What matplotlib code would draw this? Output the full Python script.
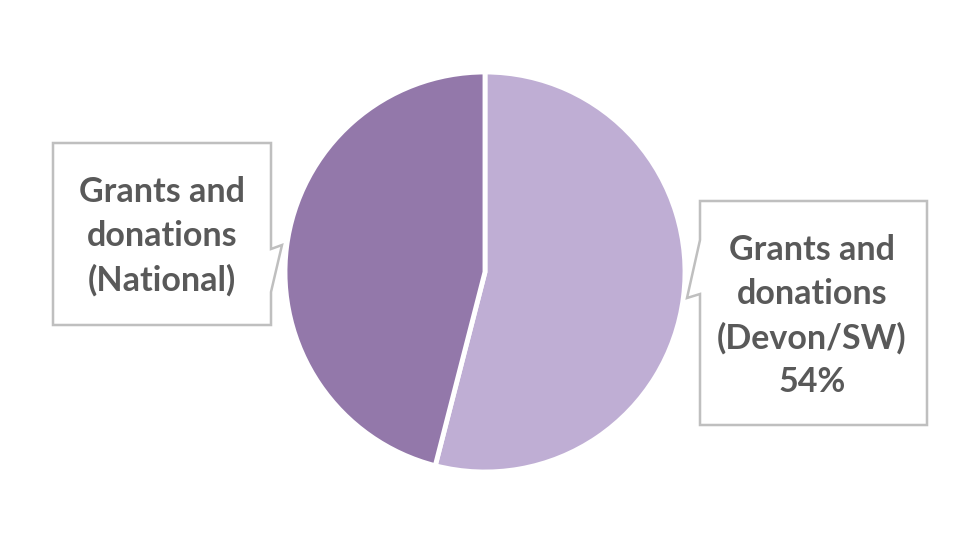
import matplotlib.pyplot as plt
from matplotlib.patches import Polygon

# data
labels = ['Grants and\ndonations\n(Devon/SW)', 'Grants and\ndonations\n(National)']
shares = [54, 46]
colors = ['#BFAED4', '#9378AA']
show_pct = [True, False]

W, H = 976, 534
fig = plt.figure(figsize=(W / 100, H / 100), dpi=100)
ax = fig.add_axes([0, 0, 1, 1])
ax.set_xlim(0, W)
ax.set_ylim(0, H)
ax.set_aspect('equal')
ax.axis('off')

# pie, centre/radius in pixel space (y flipped)
ax.pie(shares, colors=colors, startangle=90, counterclock=False,
       center=(485, H - 272), radius=200,
       wedgeprops=dict(edgecolor='white', linewidth=3.5))
ax.set_xlim(0, W)
ax.set_ylim(0, H)


def callout(pts, text_xy, txt):
    poly = Polygon([(x, H - y) for x, y in pts], closed=True,
                   facecolor='white', edgecolor='#BFBFBF', linewidth=1.8, zorder=3)
    ax.add_patch(poly)
    ax.text(text_xy[0], H - text_xy[1], txt, ha='center', va='center',
            fontsize=24.5, fontweight='bold', color='#595959',
            family='Lato', linespacing=1.45, zorder=4)


# left box (National)
callout([(53, 143), (271, 143), (271, 249), (282, 245), (271, 292),
         (271, 325), (53, 325)],
        (162, 236), labels[1] + (f'\n{shares[1]}%' if show_pct[1] else ''))

# right box (Devon/SW)
callout([(700, 201), (927, 201), (927, 425), (700, 425), (700, 294),
         (687, 298), (700, 240)],
        (812, 316), labels[0] + (f'\n{shares[0]}%' if show_pct[0] else ''))

fig.savefig('out.png', dpi=100, facecolor='white')
